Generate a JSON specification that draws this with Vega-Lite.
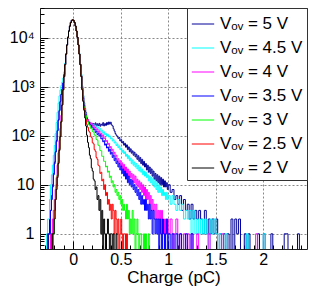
{
"$schema":"https://vega.github.io/schema/vega-lite/v6.json",
"width":267,"height":241,"autosize":"none",
"padding":{"left":40,"top":8,"right":6,"bottom":40},
"config":{"view":{"stroke":"#222","strokeWidth":1},"font":"Liberation Sans"},
"data":{"values":[
{"x":-0.35,"v5":0.1,"v45":0.1,"v4":0.1,"v35":0.1,"v3":0.1,"v25":0.1,"v2":0.1},
{"x":-0.28,"v5":0.1,"v45":1,"v4":0.1,"v35":0.1,"v3":0.1,"v25":0.1,"v2":0.1},
{"x":-0.27,"v5":0.1,"v45":2,"v4":0.1,"v35":1,"v3":0.1,"v25":0.1,"v2":0.1},
{"x":-0.26,"v5":1,"v45":2,"v4":0.1,"v35":1,"v3":0.1,"v25":0.1,"v2":0.1},
{"x":-0.25,"v5":2,"v45":5,"v4":0.1,"v35":1,"v3":0.1,"v25":0.1,"v2":0.1},
{"x":-0.24,"v5":3,"v45":10,"v4":1,"v35":3,"v3":0.1,"v25":0.1,"v2":0.1},
{"x":-0.23,"v5":6,"v45":16,"v4":1,"v35":5,"v3":0.1,"v25":1,"v2":0.1},
{"x":-0.22,"v5":10,"v45":25,"v4":2,"v35":9,"v3":1,"v25":0.1,"v2":1},
{"x":-0.21,"v5":17,"v45":40,"v4":3,"v35":16,"v3":1,"v25":2,"v2":1},
{"x":-0.20,"v5":29,"v45":63,"v4":5,"v35":27,"v3":3,"v25":3,"v2":2},
{"x":-0.19,"v5":47,"v45":110,"v4":8,"v35":46,"v3":5,"v25":5,"v2":5},
{"x":-0.18,"v5":80,"v45":185,"v4":14,"v35":76,"v3":9,"v25":10,"v2":8},
{"x":-0.17,"v5":128,"v45":300,"v4":25,"v35":125,"v3":16,"v25":15,"v2":14},
{"x":-0.16,"v5":210,"v45":460,"v4":45,"v35":205,"v3":30,"v25":28,"v2":27},
{"x":-0.15,"v5":330,"v45":650,"v4":80,"v35":320,"v3":55,"v25":52,"v2":50},
{"x":-0.14,"v5":500,"v45":850,"v4":140,"v35":490,"v3":100,"v25":98,"v2":95},
{"x":-0.13,"v5":700,"v45":1050,"v4":260,"v35":690,"v3":200,"v25":195,"v2":190},
{"x":-0.12,"v5":900,"v45":1250,"v4":480,"v35":880,"v3":430,"v25":425,"v2":420},
{"x":-0.11,"v5":1200,"v45":1500,"v4":900,"v35":1180,"v3":860,"v25":860,"v2":860},
{"x":-0.10,"v5":1800,"v45":2000,"v4":1650,"v35":1750,"v3":1600,"v25":1600,"v2":1600},
{"x":-0.09,"v5":2900,"v45":3000,"v4":2820,"v35":2850,"v3":2800,"v25":2790,"v2":2800},
{"x":-0.08,"v5":4620,"v45":4650,"v4":4600,"v35":4600,"v3":4590,"v25":4580,"v2":4590},
{"x":-0.07,"v5":7080,"v45":7100,"v4":7060,"v35":7050,"v3":7050,"v25":7040,"v2":7050},
{"x":-0.06,"v5":10150,"v45":10200,"v4":10120,"v35":10110,"v3":10100,"v25":10080,"v2":10110},
{"x":-0.05,"v5":13650,"v45":13700,"v4":13600,"v35":13590,"v3":13580,"v25":13550,"v2":13590},
{"x":-0.04,"v5":17200,"v45":17250,"v4":17150,"v35":17100,"v3":17080,"v25":17050,"v2":17100},
{"x":-0.03,"v5":20300,"v45":20350,"v4":20200,"v35":20170,"v3":20150,"v25":20100,"v2":20170},
{"x":-0.02,"v5":22400,"v45":22450,"v4":22300,"v35":22260,"v3":22240,"v25":22200,"v2":22260},
{"x":-0.01,"v5":23100,"v45":23200,"v4":23050,"v35":23000,"v3":22980,"v25":22950,"v2":23000},
{"x":0.00,"v5":22350,"v45":22400,"v4":22300,"v35":22260,"v3":22240,"v25":22200,"v2":22260},
{"x":0.01,"v5":20250,"v45":20300,"v4":20200,"v35":20170,"v3":20150,"v25":20120,"v2":20170},
{"x":0.02,"v5":17150,"v45":17200,"v4":17120,"v35":17100,"v3":17090,"v25":17080,"v2":17100},
{"x":0.03,"v5":13640,"v45":13700,"v4":13620,"v35":13590,"v3":13580,"v25":13570,"v2":13590},
{"x":0.04,"v5":10160,"v45":10220,"v4":10140,"v35":10110,"v3":10100,"v25":10090,"v2":10110},
{"x":0.05,"v5":7120,"v45":7180,"v4":7080,"v35":7070,"v3":7060,"v25":7050,"v2":7050},
{"x":0.06,"v5":4660,"v45":4720,"v4":4630,"v35":4620,"v3":4610,"v25":4600,"v2":4590},
{"x":0.07,"v5":2870,"v45":2920,"v4":2840,"v35":2830,"v3":2820,"v25":2810,"v2":2800},
{"x":0.08,"v5":1700,"v45":1800,"v4":1650,"v35":1650,"v3":1620,"v25":1610,"v2":1600},
{"x":0.09,"v5":1000,"v45":1050,"v4":950,"v35":940,"v3":900,"v25":880,"v2":860},
{"x":0.10,"v5":650,"v45":660,"v4":600,"v35":590,"v3":540,"v25":520,"v2":500},
{"x":0.11,"v5":470,"v45":465,"v4":420,"v35":420,"v3":390,"v25":360,"v2":330},
{"x":0.12,"v5":360,"v45":350,"v4":330,"v35":320,"v3":300,"v25":270,"v2":230},
{"x":0.13,"v5":295,"v45":282,"v4":276,"v35":268,"v3":258,"v25":212,"v2":158},
{"x":0.14,"v5":236,"v45":240,"v4":231,"v35":229,"v3":211,"v25":168,"v2":102},
{"x":0.15,"v5":210,"v45":199,"v4":214,"v35":196,"v3":193,"v25":148,"v2":73},
{"x":0.16,"v5":178,"v45":193,"v4":190,"v35":188,"v3":168,"v25":124,"v2":57},
{"x":0.17,"v5":186,"v45":176,"v4":189,"v35":166,"v3":162,"v25":117,"v2":40},
{"x":0.18,"v5":165,"v45":184,"v4":171,"v35":165,"v3":141,"v25":97,"v2":34},
{"x":0.19,"v5":181,"v45":166,"v4":176,"v35":148,"v3":139,"v25":91,"v2":22},
{"x":0.20,"v5":159,"v45":172,"v4":155,"v35":149,"v3":121,"v25":72,"v2":19},
{"x":0.21,"v5":176,"v45":158,"v4":162,"v35":131,"v3":118,"v25":68,"v2":13},
{"x":0.22,"v5":163,"v45":166,"v4":142,"v35":136,"v3":103,"v25":52,"v2":12},
{"x":0.23,"v5":182,"v45":149,"v4":148,"v35":117,"v3":102,"v25":48,"v2":8},
{"x":0.24,"v5":158,"v45":157,"v4":131,"v35":124,"v3":84,"v25":36,"v2":9},
{"x":0.25,"v5":174,"v45":141,"v4":136,"v35":105,"v3":81,"v25":33,"v2":5},
{"x":0.26,"v5":160,"v45":148,"v4":118,"v35":112,"v3":64,"v25":25,"v2":6},
{"x":0.27,"v5":178,"v45":132,"v4":125,"v35":98,"v3":62,"v25":24,"v2":3},
{"x":0.28,"v5":156,"v45":139,"v4":106,"v35":104,"v3":50,"v25":17,"v2":5},
{"x":0.29,"v5":171,"v45":122,"v4":113,"v35":86,"v3":49,"v25":18,"v2":1},
{"x":0.30,"v5":163,"v45":129,"v4":97,"v35":90,"v3":38,"v25":12,"v2":3},
{"x":0.31,"v5":184,"v45":112,"v4":104,"v35":75,"v3":38,"v25":13,"v2":0.1},
{"x":0.32,"v5":158,"v45":120,"v4":87,"v35":79,"v3":30,"v25":8,"v2":2},
{"x":0.33,"v5":176,"v45":104,"v4":91,"v35":64,"v3":30,"v25":10,"v2":1},
{"x":0.34,"v5":162,"v45":111,"v4":76,"v35":68,"v3":23,"v25":6,"v2":0.1},
{"x":0.35,"v5":185,"v45":98,"v4":80,"v35":56,"v3":24,"v25":7,"v2":1},
{"x":0.36,"v5":168,"v45":106,"v4":66,"v35":59,"v3":18,"v25":4,"v2":2},
{"x":0.37,"v5":190,"v45":94,"v4":70,"v35":48,"v3":19,"v25":5,"v2":1},
{"x":0.38,"v5":172,"v45":99,"v4":56,"v35":53,"v3":14,"v25":3,"v2":0.1},
{"x":0.39,"v5":188,"v45":86,"v4":60,"v35":42,"v3":15,"v25":4,"v2":1},
{"x":0.40,"v5":166,"v45":90,"v4":49,"v35":46,"v3":11,"v25":2,"v2":1},
{"x":0.41,"v5":158,"v45":78,"v4":53,"v35":36,"v3":12,"v25":4,"v2":0.1},
{"x":0.42,"v5":138,"v45":83,"v4":42,"v35":40,"v3":9,"v25":3,"v2":1},
{"x":0.43,"v5":124,"v45":71,"v4":46,"v35":31,"v3":10,"v25":1,"v2":0.1},
{"x":0.44,"v5":110,"v45":75,"v4":37,"v35":35,"v3":7,"v25":3,"v2":0.1},
{"x":0.45,"v5":102,"v45":63,"v4":40,"v35":27,"v3":8,"v25":2,"v2":1},
{"x":0.46,"v5":97,"v45":68,"v4":31,"v35":30,"v3":6,"v25":1,"v2":0.1},
{"x":0.47,"v5":88,"v45":57,"v4":34,"v35":23,"v3":7,"v25":2,"v2":0.1},
{"x":0.48,"v5":92,"v45":62,"v4":27,"v35":27,"v3":5,"v25":0.1,"v2":0.1},
{"x":0.49,"v5":78,"v45":52,"v4":31,"v35":20,"v3":6,"v25":1,"v2":0.1},
{"x":0.50,"v5":83,"v45":56,"v4":24,"v35":24,"v3":4,"v25":2,"v2":0.1},
{"x":0.51,"v5":71,"v45":46,"v4":28,"v35":17,"v3":5,"v25":1,"v2":0.1},
{"x":0.52,"v5":76,"v45":51,"v4":21,"v35":21,"v3":3,"v25":0.1,"v2":0.1},
{"x":0.53,"v5":64,"v45":43,"v4":26,"v35":15,"v3":4,"v25":1,"v2":0.1},
{"x":0.54,"v5":70,"v45":47,"v4":19,"v35":19,"v3":3,"v25":1,"v2":0.1},
{"x":0.55,"v5":58,"v45":38,"v4":23,"v35":13,"v3":2,"v25":0.1,"v2":0.1},
{"x":0.56,"v5":65,"v45":42,"v4":17,"v35":17,"v3":4,"v25":1,"v2":0.1},
{"x":0.57,"v5":52,"v45":34,"v4":21,"v35":11,"v3":2,"v25":0.1,"v2":0.1},
{"x":0.58,"v5":59,"v45":39,"v4":15,"v35":15,"v3":3,"v25":0.1,"v2":0.1},
{"x":0.59,"v5":47,"v45":31,"v4":19,"v35":10,"v3":1,"v25":0.1,"v2":0.1},
{"x":0.60,"v5":54,"v45":35,"v4":14,"v35":13,"v3":2,"v25":0.1,"v2":0.1},
{"x":0.61,"v5":44,"v45":27,"v4":17,"v35":9,"v3":1,"v25":0.1,"v2":0.1},
{"x":0.62,"v5":49,"v45":32,"v4":12,"v35":12,"v3":3,"v25":0.1,"v2":0.1},
{"x":0.63,"v5":40,"v45":25,"v4":16,"v35":8,"v3":1,"v25":0.1,"v2":0.1},
{"x":0.64,"v5":46,"v45":29,"v4":11,"v35":10,"v3":2,"v25":0.1,"v2":0.1},
{"x":0.65,"v5":37,"v45":23,"v4":15,"v35":7,"v3":0.1,"v25":0.1,"v2":0.1},
{"x":0.66,"v5":42,"v45":27,"v4":10,"v35":9,"v3":1,"v25":0.1,"v2":0.1},
{"x":0.67,"v5":33,"v45":21,"v4":13,"v35":6,"v3":2,"v25":0.1,"v2":0.1},
{"x":0.68,"v5":39,"v45":25,"v4":9,"v35":8,"v3":1,"v25":0.1,"v2":0.1},
{"x":0.69,"v5":30,"v45":19,"v4":12,"v35":5,"v3":0.1,"v25":0.1,"v2":0.1},
{"x":0.70,"v5":36,"v45":23,"v4":8,"v35":7,"v3":1,"v25":0.1,"v2":0.1},
{"x":0.71,"v5":27,"v45":18,"v4":11,"v35":4,"v3":1,"v25":0.1,"v2":0.1},
{"x":0.72,"v5":33,"v45":21,"v4":7,"v35":6,"v3":0.1,"v25":0.1,"v2":0.1},
{"x":0.73,"v5":25,"v45":16,"v4":10,"v35":4,"v3":0.1,"v25":0.1,"v2":0.1},
{"x":0.74,"v5":30,"v45":19,"v4":6,"v35":5,"v3":1,"v25":0.1,"v2":0.1},
{"x":0.75,"v5":23,"v45":15,"v4":9,"v35":3,"v3":0.1,"v25":0.1,"v2":0.1},
{"x":0.76,"v5":27,"v45":18,"v4":5,"v35":5,"v3":1,"v25":0.1,"v2":0.1},
{"x":0.77,"v5":20,"v45":14,"v4":8,"v35":3,"v3":0.1,"v25":0.1,"v2":0.1},
{"x":0.78,"v5":25,"v45":16,"v4":5,"v35":4,"v3":0.1,"v25":0.1,"v2":0.1},
{"x":0.79,"v5":18,"v45":12,"v4":7,"v35":2,"v3":1,"v25":0.1,"v2":0.1},
{"x":0.80,"v5":23,"v45":15,"v4":4,"v35":4,"v3":0.1,"v25":0.1,"v2":0.1},
{"x":0.81,"v5":17,"v45":11,"v4":6,"v35":2,"v3":0.1,"v25":0.1,"v2":0.1},
{"x":0.82,"v5":21,"v45":14,"v4":3,"v35":3,"v3":0.1,"v25":0.1,"v2":0.1},
{"x":0.83,"v5":15,"v45":10,"v4":5,"v35":1,"v3":0.1,"v25":0.1,"v2":0.1},
{"x":0.84,"v5":19,"v45":13,"v4":3,"v35":3,"v3":0.1,"v25":0.1,"v2":0.1},
{"x":0.85,"v5":13,"v45":9,"v4":4,"v35":2,"v3":0.1,"v25":0.1,"v2":0.1},
{"x":0.86,"v5":17,"v45":12,"v4":2,"v35":1,"v3":0.1,"v25":0.1,"v2":0.1},
{"x":0.87,"v5":12,"v45":8,"v4":4,"v35":2,"v3":0.1,"v25":0.1,"v2":0.1},
{"x":0.88,"v5":16,"v45":11,"v4":2,"v35":1,"v3":0.1,"v25":0.1,"v2":0.1},
{"x":0.89,"v5":11,"v45":7,"v4":3,"v35":2,"v3":0.1,"v25":0.1,"v2":0.1},
{"x":0.90,"v5":15,"v45":10,"v4":2,"v35":0.1,"v3":0.1,"v25":0.1,"v2":0.1},
{"x":0.91,"v5":10,"v45":7,"v4":3,"v35":2,"v3":0.1,"v25":0.1,"v2":0.1},
{"x":0.92,"v5":14,"v45":9,"v4":1,"v35":1,"v3":0.1,"v25":0.1,"v2":0.1},
{"x":0.93,"v5":10,"v45":6,"v4":3,"v35":0.1,"v3":0.1,"v25":0.1,"v2":0.1},
{"x":0.94,"v5":13,"v45":8,"v4":1,"v35":2,"v3":0.1,"v25":0.1,"v2":0.1},
{"x":0.95,"v5":9,"v45":6,"v4":2,"v35":1,"v3":0.1,"v25":0.1,"v2":0.1},
{"x":0.96,"v5":12,"v45":7,"v4":0.1,"v35":0.1,"v3":0.1,"v25":0.1,"v2":0.1},
{"x":0.97,"v5":9,"v45":5,"v4":2,"v35":1,"v3":0.1,"v25":0.1,"v2":0.1},
{"x":0.98,"v5":11,"v45":7,"v4":1,"v35":2,"v3":0.1,"v25":0.1,"v2":0.1},
{"x":0.99,"v5":8,"v45":5,"v4":2,"v35":0.1,"v3":0.1,"v25":0.1,"v2":0.1},
{"x":1.00,"v5":10,"v45":6,"v4":1,"v35":1,"v3":0.1,"v25":0.1,"v2":0.1},
{"x":1.02,"v5":7,"v45":4,"v4":2,"v35":0.1,"v3":0.1,"v25":0.1,"v2":0.1},
{"x":1.04,"v5":8,"v45":6,"v4":0.1,"v35":1,"v3":0.1,"v25":0.1,"v2":0.1},
{"x":1.06,"v5":5,"v45":4,"v4":1,"v35":0.1,"v3":0.1,"v25":0.1,"v2":0.1},
{"x":1.08,"v5":6,"v45":3,"v4":2,"v35":1,"v3":0.1,"v25":0.1,"v2":0.1},
{"x":1.10,"v5":4,"v45":5,"v4":0.1,"v35":0.1,"v3":0.1,"v25":0.1,"v2":0.1},
{"x":1.12,"v5":6,"v45":3,"v4":1,"v35":1,"v3":0.1,"v25":0.1,"v2":0.1},
{"x":1.14,"v5":3,"v45":4,"v4":0.1,"v35":0.1,"v3":0.1,"v25":0.1,"v2":0.1},
{"x":1.16,"v5":5,"v45":2,"v4":1,"v35":0.1,"v3":0.1,"v25":0.1,"v2":0.1},
{"x":1.18,"v5":3,"v45":3,"v4":0.1,"v35":1,"v3":0.1,"v25":0.1,"v2":0.1},
{"x":1.20,"v5":4,"v45":2,"v4":1,"v35":0.1,"v3":0.1,"v25":0.1,"v2":0.1},
{"x":1.22,"v5":2,"v45":3,"v4":0.1,"v35":0.1,"v3":0.1,"v25":0.1,"v2":0.1},
{"x":1.24,"v5":4,"v45":1,"v4":1,"v35":1,"v3":0.1,"v25":0.1,"v2":0.1},
{"x":1.26,"v5":2,"v45":3,"v4":0.1,"v35":0.1,"v3":0.1,"v25":0.1,"v2":0.1},
{"x":1.28,"v5":3,"v45":1,"v4":0.1,"v35":0.1,"v3":0.1,"v25":0.1,"v2":0.1},
{"x":1.30,"v5":2,"v45":2,"v4":1,"v35":0.1,"v3":0.1,"v25":0.1,"v2":0.1},
{"x":1.32,"v5":3,"v45":1,"v4":0.1,"v35":0.1,"v3":0.1,"v25":0.1,"v2":0.1},
{"x":1.34,"v5":2,"v45":2,"v4":0.1,"v35":0.1,"v3":0.1,"v25":0.1,"v2":0.1},
{"x":1.36,"v5":1,"v45":1,"v4":0.1,"v35":0.1,"v3":0.1,"v25":0.1,"v2":0.1},
{"x":1.38,"v5":3,"v45":2,"v4":0.1,"v35":0.1,"v3":0.1,"v25":0.1,"v2":0.1},
{"x":1.40,"v5":1,"v45":1,"v4":0.1,"v35":0.1,"v3":0.1,"v25":0.1,"v2":0.1},
{"x":1.42,"v5":2,"v45":0.1,"v4":1,"v35":0.1,"v3":0.1,"v25":0.1,"v2":0.1},
{"x":1.44,"v5":1,"v45":2,"v4":0.1,"v35":0.1,"v3":0.1,"v25":0.1,"v2":0.1},
{"x":1.46,"v5":2,"v45":1,"v4":0.1,"v35":0.1,"v3":0.1,"v25":0.1,"v2":0.1},
{"x":1.48,"v5":1,"v45":2,"v4":0.1,"v35":0.1,"v3":0.1,"v25":0.1,"v2":0.1},
{"x":1.50,"v5":2,"v45":1,"v4":0.1,"v35":0.1,"v3":0.1,"v25":0.1,"v2":0.1},
{"x":1.52,"v5":0.1,"v45":0.1,"v4":0.1,"v35":0.1,"v3":0.1,"v25":0.1,"v2":0.1},
{"x":1.54,"v5":1,"v45":1,"v4":0.1,"v35":0.1,"v3":0.1,"v25":0.1,"v2":0.1},
{"x":1.56,"v5":0.1,"v45":0.1,"v4":1,"v35":0.1,"v3":0.1,"v25":0.1,"v2":0.1},
{"x":1.58,"v5":1,"v45":0.1,"v4":0.1,"v35":0.1,"v3":0.1,"v25":0.1,"v2":0.1},
{"x":1.60,"v5":0.1,"v45":1,"v4":0.1,"v35":0.1,"v3":0.1,"v25":0.1,"v2":0.1},
{"x":1.62,"v5":1,"v45":0.1,"v4":0.1,"v35":0.1,"v3":0.1,"v25":0.1,"v2":0.1},
{"x":1.64,"v5":0.1,"v45":0.1,"v4":0.1,"v35":0.1,"v3":0.1,"v25":0.1,"v2":0.1},
{"x":1.66,"v5":2,"v45":0.1,"v4":0.1,"v35":0.1,"v3":0.1,"v25":0.1,"v2":0.1},
{"x":1.68,"v5":0.1,"v45":0.1,"v4":0.1,"v35":0.1,"v3":0.1,"v25":0.1,"v2":0.1},
{"x":1.70,"v5":2,"v45":0.1,"v4":0.1,"v35":0.1,"v3":0.1,"v25":0.1,"v2":0.1},
{"x":1.72,"v5":1,"v45":0.1,"v4":0.1,"v35":0.1,"v3":0.1,"v25":0.1,"v2":0.1},
{"x":1.74,"v5":2,"v45":0.1,"v4":0.1,"v35":0.1,"v3":0.1,"v25":0.1,"v2":0.1},
{"x":1.76,"v5":0.1,"v45":0.1,"v4":0.1,"v35":0.1,"v3":0.1,"v25":0.1,"v2":0.1},
{"x":1.80,"v5":1,"v45":0.1,"v4":0.1,"v35":0.1,"v3":0.1,"v25":0.1,"v2":0.1},
{"x":1.82,"v5":0.1,"v45":1,"v4":0.1,"v35":0.1,"v3":0.1,"v25":0.1,"v2":0.1},
{"x":1.84,"v5":1,"v45":0.1,"v4":0.1,"v35":0.1,"v3":0.1,"v25":0.1,"v2":0.1},
{"x":1.86,"v5":0.1,"v45":0.1,"v4":0.1,"v35":0.1,"v3":0.1,"v25":0.1,"v2":0.1},
{"x":1.92,"v5":0.1,"v45":0.1,"v4":1,"v35":0.1,"v3":0.1,"v25":0.1,"v2":0.1},
{"x":1.94,"v5":1,"v45":0.1,"v4":0.1,"v35":0.1,"v3":0.1,"v25":0.1,"v2":0.1},
{"x":1.96,"v5":0.1,"v45":0.1,"v4":0.1,"v35":0.1,"v3":0.1,"v25":0.1,"v2":0.1},
{"x":2.00,"v5":1,"v45":1,"v4":0.1,"v35":0.1,"v3":0.1,"v25":0.1,"v2":0.1},
{"x":2.02,"v5":0.1,"v45":0.1,"v4":0.1,"v35":0.1,"v3":0.1,"v25":0.1,"v2":0.1},
{"x":2.08,"v5":1,"v45":0.1,"v4":0.1,"v35":0.1,"v3":0.1,"v25":0.1,"v2":0.1},
{"x":2.10,"v5":0.1,"v45":0.1,"v4":0.1,"v35":0.1,"v3":0.1,"v25":0.1,"v2":0.1},
{"x":2.22,"v5":1,"v45":0.1,"v4":0.1,"v35":0.1,"v3":0.1,"v25":0.1,"v2":0.1},
{"x":2.24,"v5":1,"v45":0.1,"v4":0.1,"v35":0.1,"v3":0.1,"v25":0.1,"v2":0.1},
{"x":2.26,"v5":0.1,"v45":0.1,"v4":0.1,"v35":0.1,"v3":0.1,"v25":0.1,"v2":0.1},
{"x":2.36,"v5":1,"v45":0.1,"v4":0.1,"v35":0.1,"v3":0.1,"v25":0.1,"v2":0.1},
{"x":2.38,"v5":0.1,"v45":0.1,"v4":0.1,"v35":0.1,"v3":0.1,"v25":0.1,"v2":0.1},
{"x":2.46,"v5":0.1,"v45":0.1,"v4":0.1,"v35":0.1,"v3":0.1,"v25":0.1,"v2":0.1}
]},
"transform":[{"fold":["v5","v45","v4","v35","v3","v25","v2"],"as":["series","count"]}],
"mark":{"type":"line","interpolate":"step-after","strokeWidth":1,"clip":true},
"encoding":{
"x":{"field":"x","type":"quantitative","scale":{"domain":[-0.35,2.46],"nice":false,"zero":false},
 "axis":{"title":"Charge (pC)","titleFontSize":17,"titleFontWeight":"normal","titleColor":"black","titlePadding":-2,
 "values":[-0.3,-0.2,-0.1,0,0.1,0.2,0.3,0.4,0.5,0.6,0.7,0.8,0.9,1,1.1,1.2,1.3,1.4,1.5,1.6,1.7,1.8,1.9,2,2.1,2.2,2.3,2.4],
 "labelExpr":"abs(datum.value*2 - round(datum.value*2)) < 0.001 ? format(datum.value, '~g') : ''",
 "labelFontSize":16,"labelColor":"black","labelPadding":10,"labelOverlap":false,"labelFlush":false,
 "tickSize":{"condition":{"test":"abs(datum.value*2 - round(datum.value*2)) < 0.001","value":-8},"value":-4},
 "tickColor":"black","domain":false,"grid":true,"gridDash":[2,2],"gridColor":"#888",
 "gridOpacity":{"condition":{"test":"abs(datum.value*2 - round(datum.value*2)) < 0.001","value":1},"value":0}}},
"y":{"field":"count","type":"quantitative","scale":{"type":"log","domain":[0.49,40000],"nice":false},
 "axis":{"title":null,
 "values":[0.5,0.6,0.7,0.8,0.9,1,2,3,4,5,6,7,8,9,10,20,30,40,50,60,70,80,90,100,200,300,400,500,600,700,800,900,1000,2000,3000,4000,5000,6000,7000,8000,9000,10000,20000,30000,40000],
 "labelExpr":"datum.value==1?'1':datum.value==10?'10':datum.value==100?'10²':datum.value==1000?'10³':datum.value==10000?'10⁴':''",
 "labelFontSize":16,"labelColor":"black","labelPadding":14,"labelOverlap":false,"labelFlush":false,
 "tickSize":{"condition":{"test":"datum.value==1||datum.value==10||datum.value==100||datum.value==1000||datum.value==10000","value":-8},"value":-4},
 "tickColor":"black","domain":false,"grid":true,"gridDash":[2,2],"gridColor":"#888",
 "gridOpacity":{"condition":{"test":"datum.value==1||datum.value==10||datum.value==100||datum.value==1000||datum.value==10000","value":1},"value":0}}},
"color":{"field":"series","type":"nominal",
 "scale":{"domain":["v5","v45","v4","v35","v3","v25","v2"],"range":["#000099","#00ffff","#ff00ff","#0000ff","#00ff00","#ff0000","#000000"]},
 "legend":{"title":null,"orient":"top-right","offset":0,"padding":4,"fillColor":"white","strokeColor":"#333",
 "symbolType":"stroke","symbolSize":500,"symbolStrokeWidth":1,"labelFontSize":17,"labelColor":"black","labelOffset":5,"labelLimit":200,"rowPadding":4,
 "labelExpr":"'Vₒᵥ = ' + (datum.label=='v5'?'5':datum.label=='v45'?'4.5':datum.label=='v4'?'4':datum.label=='v35'?'3.5':datum.label=='v3'?'3':datum.label=='v25'?'2.5':'2') + ' V'"}}
}
}
